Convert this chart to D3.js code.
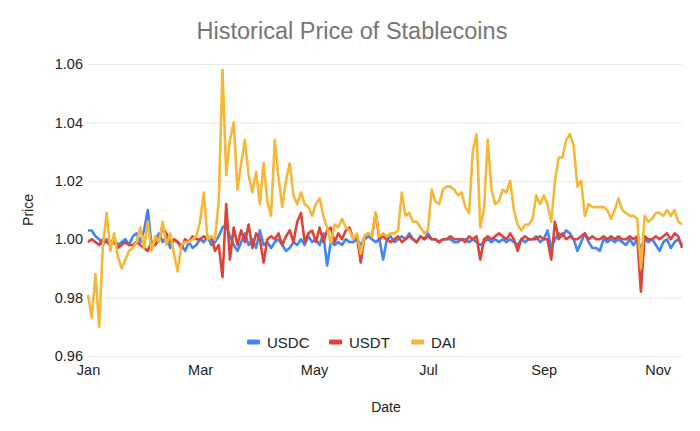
<!DOCTYPE html>
<html><head><meta charset="utf-8">
<script src="https://cdn.jsdelivr.net/npm/d3@7"></script>
<style>body{margin:0;background:#fff}svg{display:block;font-family:"Liberation Sans",Arial,sans-serif}</style>
</head><body><svg id="c" width="700" height="431"></svg>
<script>
const seriesNames = ["USDC","USDT","DAI"];
const seriesColors = ["#4285F4","#DB4437","#F4B737"];
const startDate = "2020-01-01";
const stepDays = 2;
const yTicks = [0.96,0.98,1.00,1.02,1.04,1.06];
const monthTicks = ["2020-01-01","2020-03-01","2020-05-01","2020-07-01","2020-09-01","2020-11-01"];
const monthLabels = ["Jan","Mar","May","Jul","Sep","Nov"];

const usdc = [1.003,1.003,1.001,1.000,0.998,1.000,0.999,1.000,0.998,0.999,
1.000,0.998,1.001,1.002,0.999,1.003,1.010,0.998,1.000,1.002,
0.999,1.001,0.997,1.000,0.999,0.998,0.996,0.999,0.997,0.998,
1.000,0.999,1.001,0.998,0.999,1.001,1.004,1.005,1.001,0.998,
0.996,0.999,1.002,0.998,1.000,0.997,1.003,0.998,0.999,0.997,
0.999,1.000,0.998,0.996,0.997,0.999,0.998,1.000,0.998,1.001,
0.999,1.000,0.998,1.002,0.991,0.999,0.998,0.999,0.998,1.000,
0.999,0.999,1.000,0.998,1.000,1.001,1.000,0.999,1.000,0.993,
1.000,1.001,0.999,1.000,1.001,1.000,1.002,1.000,0.999,1.001,
1.000,1.002,1.000,1.000,0.999,1.000,1.000,1.000,0.999,0.999,
1.000,1.000,0.999,1.000,0.999,0.998,0.999,1.000,0.999,1.000,
0.999,1.000,0.999,1.000,0.999,0.998,1.000,0.999,1.000,1.000,
1.001,0.999,1.000,1.003,0.997,1.000,1.002,1.001,1.003,1.002,
1.000,0.996,0.999,1.002,0.999,0.997,0.997,0.996,1.000,0.999,
1.000,0.999,1.000,0.999,0.998,1.000,0.998,1.000,0.997,1.000,
0.999,1.000,0.998,0.996,0.999,1.000,0.997,0.999,1.000,0.998];

const usdt = [0.999,1.000,0.999,0.998,1.000,0.999,0.998,0.999,0.997,0.998,
0.999,0.998,0.998,0.999,0.998,0.997,0.996,0.999,0.998,1.000,
1.004,1.002,0.999,1.000,0.999,0.997,1.000,0.999,1.001,1.000,
1.000,1.001,1.000,1.001,0.996,0.998,0.987,1.012,0.993,1.004,
0.998,1.003,0.999,1.005,0.997,1.002,1.000,0.992,1.000,1.001,
1.000,1.002,0.998,1.001,1.003,0.999,1.006,1.009,0.999,1.002,
1.003,0.999,1.004,0.999,1.003,1.004,0.999,1.002,1.000,1.003,
1.004,1.000,1.001,0.992,1.001,1.002,1.001,1.009,1.000,1.001,
1.000,0.999,1.000,1.001,0.999,1.000,1.001,1.000,0.999,1.001,
1.000,1.001,1.000,1.000,0.999,1.000,1.000,1.001,1.000,1.000,
1.000,0.999,1.001,1.000,1.001,0.993,1.000,1.001,1.000,1.001,
1.002,1.001,1.000,1.002,1.000,0.996,1.000,1.001,1.000,1.000,
1.000,1.001,1.000,1.000,0.993,1.006,1.000,1.002,1.000,1.001,
1.000,1.000,1.001,1.002,1.000,1.001,1.000,1.000,1.001,1.000,
1.001,1.000,1.001,1.000,1.000,1.001,1.000,1.001,0.982,1.001,
1.000,1.000,1.001,1.000,1.001,1.002,1.000,1.002,1.001,0.997];

const dai = [0.981,0.973,0.988,0.970,0.998,1.009,0.996,1.002,0.994,0.990,
0.993,0.996,0.997,0.999,1.004,0.997,1.006,0.996,1.001,0.999,
1.006,0.998,1.002,0.995,0.989,0.998,0.999,0.999,1.000,1.001,
1.006,1.016,1.000,1.001,1.000,1.013,1.058,1.022,1.034,1.040,
1.017,1.026,1.034,1.022,1.016,1.023,1.012,1.026,1.013,1.008,
1.034,1.021,1.011,1.020,1.026,1.015,1.012,1.016,1.012,1.011,
1.008,1.012,1.014,1.008,1.004,0.9986,1.005,1.004,1.007,1.004,
1.003,1.000,1.002,0.995,1.001,1.002,1.001,1.009,1.001,1.002,
1.001,1.002,1.002,1.003,1.016,1.008,1.009,1.006,1.006,1.004,
1.002,1.003,1.017,1.013,1.012,1.017,1.018,1.018,1.017,1.015,
1.016,1.011,1.009,1.030,1.036,1.004,1.010,1.034,1.017,1.012,
1.013,1.017,1.016,1.020,1.010,1.005,1.003,1.005,1.005,1.007,
1.015,1.012,1.015,1.012,1.006,1.020,1.028,1.028,1.034,1.036,
1.032,1.018,1.020,1.008,1.012,1.011,1.011,1.011,1.011,1.010,
1.007,1.010,1.014,1.010,1.009,1.008,1.008,1.007,0.990,1.008,
1.006,1.007,1.009,1.009,1.008,1.010,1.008,1.010,1.006,1.005];

const seriesValues = [usdc, usdt, dai];

const svg = d3.select("#c");
const W = 700, H = 431;
const m = {left: 88, right: 18, top: 64, bottom: 75};
const parse = d3.utcParse("%Y-%m-%d");
const t0 = parse(startDate);
const dates = dai.map((_, i) => d3.utcDay.offset(t0, i * stepDays));

const x = d3.scaleUtc().domain([t0, dates[dates.length - 1]]).range([m.left, W - m.right]);
const y = d3.scaleLinear().domain([0.96, 1.06]).range([H - m.bottom, m.top]);

// title
svg.append("text").attr("x", 352).attr("y", 39).attr("text-anchor", "middle")
  .attr("font-size", 23.5).attr("fill", "#757575").text("Historical Price of Stablecoins");

// gridlines
const yAxis = d3.axisLeft(y).tickValues(yTicks).tickFormat(d3.format(".2f"))
  .tickSize(-(W - m.right - m.left)).tickPadding(5);
const gy = svg.append("g").attr("transform", `translate(${m.left},0)`).call(yAxis);
gy.select(".domain").remove();
gy.selectAll(".tick line").attr("stroke", "#e8e8e8").attr("stroke-width", 1);
gy.selectAll(".tick text").attr("font-size", 14.5).attr("fill", "#222")
  .attr("font-family", "Liberation Sans, Arial, sans-serif");

// x axis labels
const xAxis = d3.axisBottom(x).tickValues(monthTicks.map(parse))
  .tickFormat((d, i) => monthLabels[i]).tickSize(0).tickPadding(9);
const gx = svg.append("g").attr("transform", `translate(0,${H - m.bottom})`).call(xAxis);
gx.select(".domain").remove();
gx.selectAll(".tick text").attr("font-size", 14.5).attr("fill", "#222")
  .attr("font-family", "Liberation Sans, Arial, sans-serif");

// axis titles
svg.append("text").attr("x", 386).attr("y", 412).attr("text-anchor", "middle")
  .attr("font-size", 14).attr("fill", "#222").text("Date");
svg.append("text").attr("transform", "translate(33,210) rotate(-90)").attr("text-anchor", "middle")
  .attr("font-size", 14).attr("fill", "#222").text("Price");

// lines
const line = d3.line().x((d, i) => x(dates[i])).y(d => y(d));
seriesValues.forEach((vals, si) => {
  svg.append("path").datum(vals).attr("d", line).attr("fill", "none")
    .attr("stroke", seriesColors[si]).attr("stroke-width", 2.6)
    .attr("stroke-linejoin", "round");
});

// legend
const legendX = [247, 329, 411];
seriesNames.forEach((n, i) => {
  const g = svg.append("g").attr("transform", `translate(${legendX[i]},342)`);
  g.append("rect").attr("x", 0).attr("y", -2.5).attr("width", 13).attr("height", 5).attr("rx", 1)
    .attr("fill", seriesColors[i]);
  g.append("text").attr("x", 20).attr("y", 5.5).attr("font-size", 15).attr("fill", "#222").text(n);
});
</script></body></html>
